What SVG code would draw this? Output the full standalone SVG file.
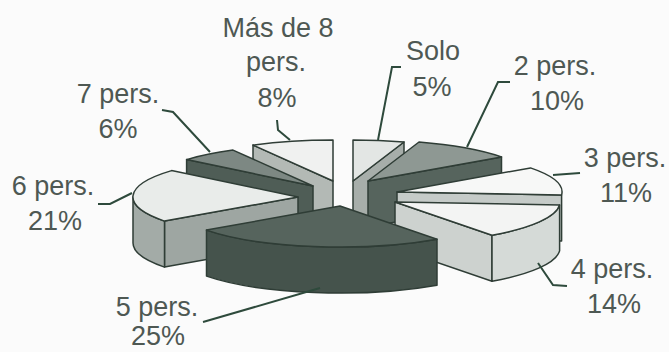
<svg xmlns="http://www.w3.org/2000/svg" width="669" height="352" viewBox="0 0 669 352">
<style>
.f{stroke:#2f3d36;stroke-width:1.5;stroke-linejoin:round}
.t{font-family:"Liberation Sans",Arial,sans-serif;font-size:27px;fill:#4e5853;text-anchor:middle}
.l{fill:none;stroke:#2e4a3c;stroke-width:2}
</style>
<rect width="669" height="352" fill="#fbfbfb"/>
<g id="solo">
<path class="f" fill="#a7aeaa" d="M353,181 L404,142 L404,188 L353,227 Z"/>
<path class="f" fill="#e3e6e4" d="M353,181 L353,140 A165 41 0 0 1 404,142 Z"/>
<text class="t" x="433" y="60">Solo</text>
<text class="t" x="432" y="96">5%</text>
</g>
<g id="mas8">
<path class="f" fill="#b3b9b5" d="M253,145.1 L333,181 L333,227 L253,191.1 Z"/>
<path class="f" fill="#f0f1f0" d="M333,181 L253,145.1 A165 41 0 0 1 333,140 Z"/>
<text class="t" x="278" y="37">Más de 8</text>
<text class="t" x="276" y="71">pers.</text>
<text class="t" x="277" y="107">8%</text>
</g>
<g id="p2">
<path class="f" fill="#56645d" d="M368,181 L501.5,156.9 L501.5,202.9 L368,227 Z"/>
<path class="f" fill="#8e9893" d="M368,181 L419,142 A165 41 0 0 1 501.5,156.9 Z"/>
<text class="t" x="555" y="75">2 pers.</text>
<text class="t" x="557" y="110">10%</text>
</g>
<g id="p7">
<path class="f" fill="#4f5d56" d="M186.6,159.6 L313,186 L313,232 L186.6,205.6 Z"/>
<path class="f" fill="#7d8883" d="M313,186 L186.6,159.6 A165 41 0 0 1 233,150.1 Z"/>
<text class="t" x="118" y="103">7 pers.</text>
<text class="t" x="118" y="138">6%</text>
</g>
<g id="p3">
<path class="f" fill="#c5cbc8" d="M397,192 L561.6,194.9 L561.6,240.9 L397,238 Z"/>
<path class="f" fill="#f7f8f7" d="M397,192 L530.5,167.9 A165 41 0 0 1 561.6,194.9 Z"/>
<text class="t" x="625" y="167">3 pers.</text>
<text class="t" x="626" y="202">11%</text>
</g>
<g id="p6">
<path class="f" fill="#9ea6a2" d="M298,197 L164.5,221.1 L164.5,267.1 L298,243 Z"/>
<path class="f" fill="#a3aba7" d="M164.5,221.1 A165 41 0 0 1 133,197 L133,243 A165 41 0 0 0 164.5,267.1 Z"/>
<path class="f" fill="#e9ecea" d="M298,197 L164.5,221.1 A165 41 0 0 1 171.6,170.6 Z"/>
<text class="t" x="53" y="195">6 pers.</text>
<text class="t" x="55" y="230">21%</text>
</g>
<g id="p4">
<path class="f" fill="#cdd2cf" d="M395,202 L492,235.2 L492,281.2 L395,248 Z"/>
<path class="f" fill="#d5dad7" d="M559.6,204.9 A165 41 0 0 1 492,235.2 L492,281.2 A165 41 0 0 0 559.6,250.9 Z"/>
<path class="f" fill="#f3f4f3" d="M395,202 L559.6,204.9 A165 41 0 0 1 492,235.2 Z"/>
<text class="t" x="612" y="278">4 pers.</text>
<text class="t" x="614" y="313">14%</text>
</g>
<g id="p5">
<path class="f" fill="#45534c" d="M437,239.2 A165 41 0 0 1 206.5,230.1 L206.5,276.1 A165 41 0 0 0 437,285.2 Z"/>
<path class="f" fill="#56645d" d="M340,206 L437,239.2 A165 41 0 0 1 206.5,230.1 Z"/>
<text class="t" x="157" y="316">5 pers.</text>
<text class="t" x="158" y="345">25%</text>
</g>
<g id="connectors">
<polyline class="l" points="277,120 278,130 290,140"/>
<polyline class="l" points="401,67 392,67 378,140"/>
<polyline class="l" points="510,82 498,82 467,147"/>
<polyline class="l" points="580,173 553,175"/>
<polyline class="l" points="567,286 553,285 538,263"/>
<polyline class="l" points="203,322 320,288"/>
<polyline class="l" points="98,204 110,204 132,193"/>
<polyline class="l" points="162,110 173,112 210,152"/>
</g>
</svg>
